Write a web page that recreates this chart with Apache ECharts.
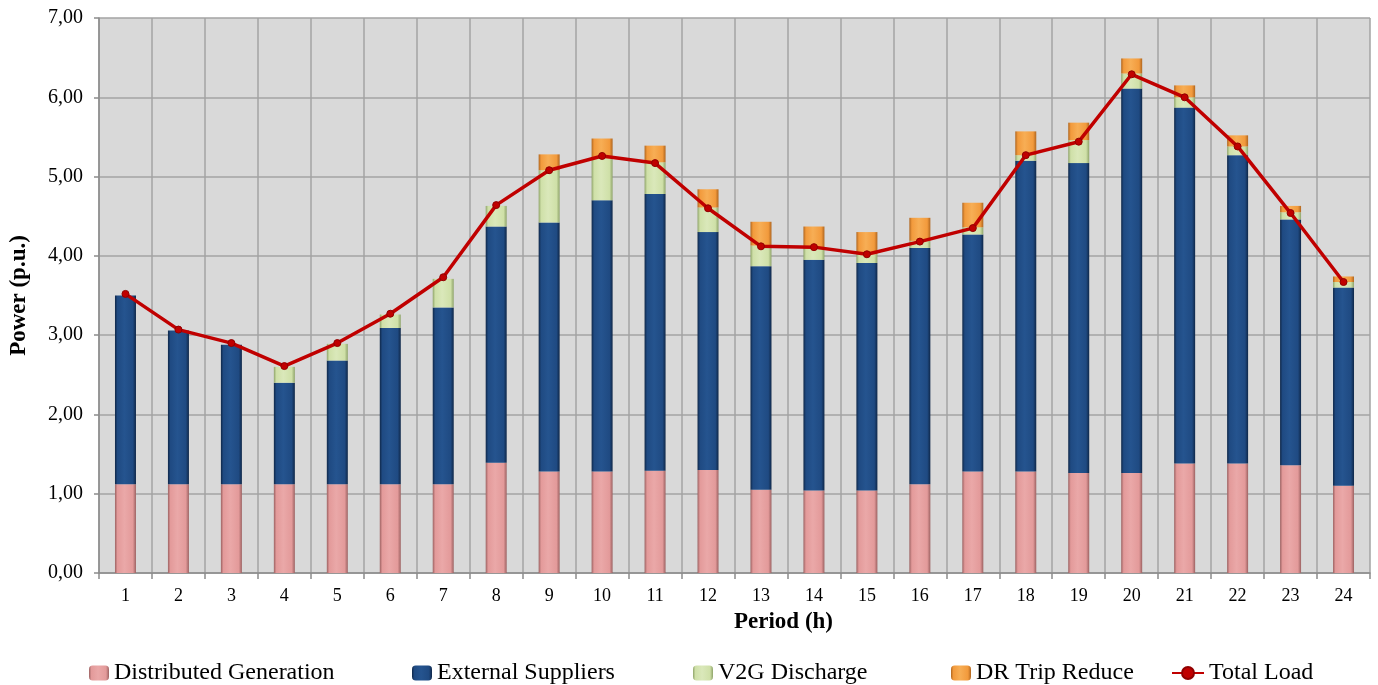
<!DOCTYPE html>
<html>
<head>
<meta charset="utf-8">
<script src="https://cdn.jsdelivr.net/npm/echarts@6/dist/echarts.min.js"></script>
<style>
  html, body { margin: 0; padding: 0; background: #ffffff; }
  #chart { width: 1378px; height: 685px; }
</style>
</head>
<body>
<div id="chart"></div>
<script>
// Hourly periods
const periods = ['1','2','3','4','5','6','7','8','9','10','11','12','13','14','15','16','17','18','19','20','21','22','23','24'];

// Supply components per period (p.u.)
const distributedGeneration = [1.12,1.12,1.12,1.12,1.12,1.12,1.12,1.39,1.28,1.28,1.29,1.30,1.05,1.04,1.04,1.12,1.28,1.28,1.26,1.26,1.38,1.38,1.36,1.10];
const externalSuppliers     = [2.38,1.94,1.76,1.28,1.56,1.97,2.23,2.98,3.14,3.42,3.49,3.00,2.82,2.91,2.87,2.98,2.99,3.92,3.91,4.85,4.49,3.89,3.10,2.50];
const v2gDischarge          = [0,0,0,0.20,0.21,0.17,0.36,0.26,0.66,0.53,0.40,0.31,0.26,0.14,0.11,0.09,0.09,0.07,0.29,0.19,0.13,0.11,0.09,0.07];
const drTripReduce          = [0,0,0,0,0,0,0,0,0.20,0.25,0.21,0.23,0.30,0.28,0.28,0.29,0.31,0.30,0.22,0.19,0.15,0.14,0.08,0.07];

// Demand per period (p.u.)
const totalLoad = [3.52,3.07,2.90,2.61,2.90,3.27,3.73,4.64,5.08,5.26,5.17,4.60,4.12,4.11,4.02,4.18,4.35,5.27,5.44,6.29,6.00,5.38,4.54,3.67];

// Y-axis range
const yMin = 0, yMax = 7, yStep = 1;

const serif = '"Liberation Serif", "DejaVu Serif", serif';

// Horizontal shading for a rounded, bevelled bar look
function barFill(edge, mid, light) {
  return new echarts.graphic.LinearGradient(0, 0, 1, 0, [
    { offset: 0, color: edge },
    { offset: 0.12, color: mid },
    { offset: 0.45, color: light },
    { offset: 0.85, color: mid },
    { offset: 1, color: edge }
  ]);
}

const colors = {
  dg:  barFill('#9C6262', '#E39A9A', '#EAA8A8'),
  es:  barFill('#0F2748', '#1F4A82', '#25548F'),
  v2g: barFill('#8FA46A', '#CFE0A8', '#DAE8BA'),
  dr:  barFill('#B0661F', '#F29A3C', '#F7AE55')
};

function barSeries(name, data, fill, legendColor) {
  return {
    name: name,
    type: 'bar',
    stack: 'supply',
    barWidth: 21,
    data: data,
    itemStyle: { color: fill },
    emphasis: { disabled: true }
  };
}

const chart = echarts.init(document.getElementById('chart'), null, { renderer: 'canvas' });

const legendText = { fontFamily: serif, fontSize: 24, color: '#000' };
function legendAt(left, name, width) {
  return {
    data: [name],
    left: left,
    top: 656,
    itemWidth: width || 20,
    itemHeight: 15,
    textStyle: legendText,
    selectedMode: false
  };
}

chart.setOption({
  animation: false,
  backgroundColor: '#ffffff',
  grid: {
    left: 90, right: 8, top: 18, bottom: 112,
    show: true,
    backgroundColor: '#D9D9D9',
    borderWidth: 0
  },
  legend: [
    legendAt(84, 'Distributed Generation'),
    legendAt(407, 'External Suppliers'),
    legendAt(688, 'V2G Discharge'),
    legendAt(946, 'DR Trip Reduce'),
    legendAt(1166, 'Total Load', 32)
  ],
  xAxis: {
    type: 'category',
    data: periods,
    boundaryGap: true,
    name: 'Period (h)',
    nameLocation: 'middle',
    nameGap: 38,
    nameTextStyle: { fontFamily: serif, fontSize: 23, fontWeight: 'bold', color: '#000', padding: [0, 0, 0, 98] },
    axisLine: { lineStyle: { color: '#8C8C8C', width: 1.5 } },
    axisTick: { show: true, length: 6, lineStyle: { color: '#8C8C8C', width: 1.5 } },
    axisLabel: { fontFamily: serif, fontSize: 18, color: '#000', margin: 14 },
    splitLine: { show: true, interval: 0, lineStyle: { color: '#A3A3A3', width: 1.5 } }
  },
  yAxis: {
    type: 'value',
    min: yMin, max: yMax, interval: yStep,
    name: 'Power (p.u.)',
    nameLocation: 'middle',
    nameGap: 68,
    nameTextStyle: { fontFamily: serif, fontSize: 23, fontWeight: 'bold', color: '#000' },
    axisLine: { show: true, lineStyle: { color: '#8C8C8C', width: 1.5 } },
    axisTick: { show: true, length: 5, lineStyle: { color: '#8C8C8C', width: 1.5 } },
    axisLabel: {
      fontFamily: serif, fontSize: 20, color: '#000', margin: 16,
      formatter: v => v.toFixed(2).replace('.', ',')
    },
    splitLine: { show: true, lineStyle: { color: '#A3A3A3', width: 1.5 } }
  },
  series: [
    barSeries('Distributed Generation', distributedGeneration, colors.dg),
    barSeries('External Suppliers', externalSuppliers, colors.es),
    barSeries('V2G Discharge', v2gDischarge, colors.v2g),
    barSeries('DR Trip Reduce', drTripReduce, colors.dr),
    {
      name: 'Total Load',
      type: 'line',
      data: totalLoad,
      symbol: 'circle',
      symbolSize: 7,
      lineStyle: { color: '#C00000', width: 3.5 },
      itemStyle: { color: '#C00000', borderColor: '#900000', borderWidth: 1 },
      z: 10,
      emphasis: { disabled: true }
    }
  ]
});
</script>
</body>
</html>
